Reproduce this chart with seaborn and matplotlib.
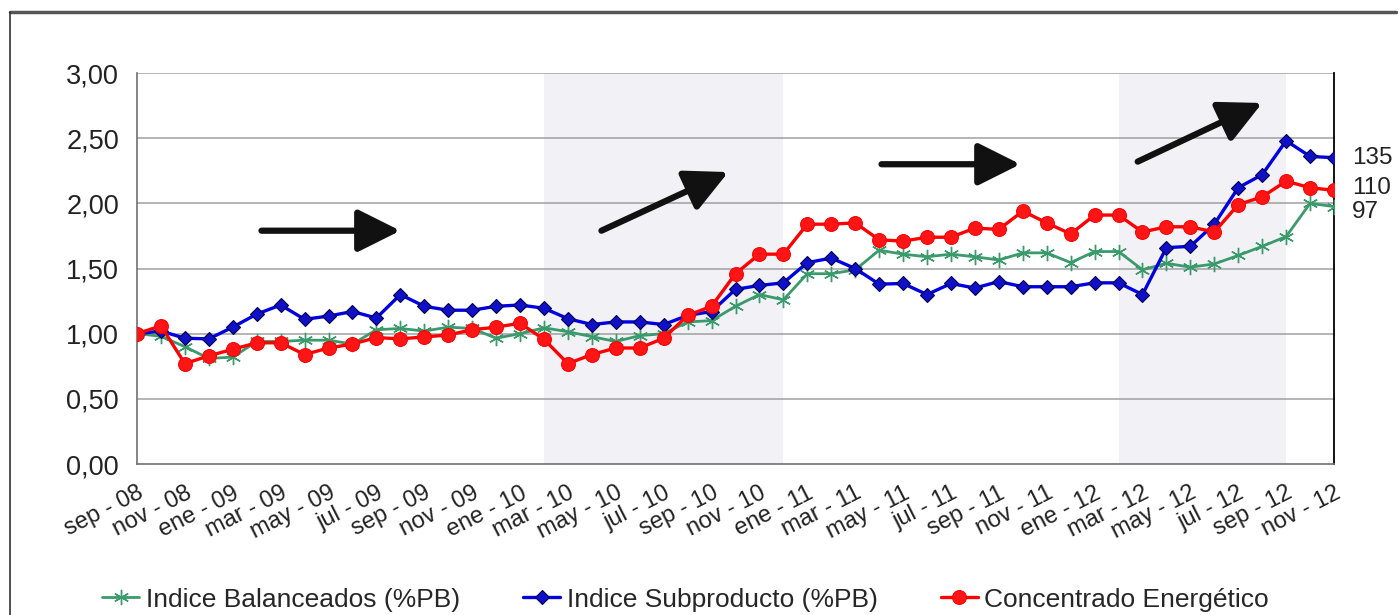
import numpy as np
import pandas as pd
import matplotlib
matplotlib.use("Agg")
import matplotlib.pyplot as plt
import seaborn as sns
from matplotlib.lines import Line2D

# ---------------- data ----------------
balanceados = [1.00, 0.98, 0.90, 0.81, 0.82, 0.94, 0.94, 0.95, 0.95, 0.92, 1.03, 1.04, 1.02,
               1.05, 1.04, 0.965, 1.00, 1.045, 1.015, 0.977, 0.94, 0.985, 1.00, 1.09, 1.10,
               1.21, 1.30, 1.26, 1.46, 1.46, 1.49, 1.64, 1.61, 1.59, 1.61, 1.59,
               1.565, 1.62, 1.62, 1.545, 1.63, 1.63, 1.49, 1.54, 1.51, 1.535, 1.60, 1.67, 1.745, 2.00, 1.975]
subproducto = [1.00, 1.02, 0.965, 0.96, 1.05, 1.15, 1.22, 1.11, 1.135, 1.17, 1.12, 1.30, 1.21,
               1.18, 1.18, 1.21, 1.22, 1.195, 1.115, 1.07, 1.09, 1.09, 1.07, 1.14, 1.17,
               1.34, 1.37, 1.39, 1.545, 1.58, 1.50, 1.38, 1.385, 1.30, 1.385, 1.35,
               1.40, 1.36, 1.36, 1.36, 1.39, 1.39, 1.30, 1.66, 1.67, 1.84, 2.12, 2.22, 2.48, 2.36, 2.35]
concentrado = [1.00, 1.06, 0.77, 0.83, 0.88, 0.93, 0.93, 0.84, 0.89, 0.92, 0.97, 0.96, 0.975,
               0.99, 1.03, 1.05, 1.08, 0.957, 0.77, 0.84, 0.89, 0.89, 0.965, 1.14, 1.21,
               1.46, 1.61, 1.61, 1.84, 1.84, 1.85, 1.72, 1.71, 1.74, 1.74, 1.81,
               1.80, 1.94, 1.85, 1.765, 1.91, 1.91, 1.78, 1.82, 1.82, 1.78, 1.99, 2.05, 2.17, 2.12, 2.10]
series_names = ["Indice Balanceados (%PB)", "Indice Subproducto (%PB)", "Concentrado Energético"]
tick_labels = ["sep - 08", "nov - 08", "ene - 09", "mar - 09", "may - 09", "jul - 09", "sep - 09",
               "nov - 09", "ene - 10", "mar - 10", "may - 10", "jul - 10", "sep - 10", "nov - 10",
               "ene - 11", "mar - 11", "may - 11", "jul - 11", "sep - 11", "nov - 11", "ene - 12",
               "mar - 12", "may - 12", "jul - 12", "sep - 12", "nov - 12"]
end_labels = ["135", "110", "97"]
end_label_y = [2.35, 2.12, 1.93]
shaded_periods = [(17, 27), (41, 48)]
trend_arrows = [((5.2, 1.79), (11.0, 1.79)), ((19.4, 1.79), (24.7, 2.24)),
                ((31.1, 2.30), (36.9, 2.30)), ((41.8, 2.32), (47.0, 2.77))]

n = len(balanceados)
idx = np.arange(n)

sns.set_style("white")
plt.rcParams["font.family"] = ["Liberation Sans", "DejaVu Sans"]

W, H = 1399, 615
fig = plt.figure(figsize=(W / 100, H / 100), dpi=100)
ax = fig.add_axes([137 / W, 1 - 464 / H, (1334 - 137) / W, (464 - 73) / H])

for a, b in shaded_periods:
    ax.axvspan(a, b, color="#F1F1F6", zorder=0, lw=0)

for yv in np.arange(0.5, 3.01, 0.5):
    ax.axhline(yv, color="#A0A0A0", lw=1.1, zorder=1)

sns.lineplot(x=idx, y=balanceados, ax=ax, color="#3A9A6C", lw=2.0, marker=(6, 2, 0),
             markersize=11, markeredgewidth=1.0, markeredgecolor="#3A9A6C",
             label=series_names[0], zorder=3, sort=False)
sns.lineplot(x=idx, y=subproducto, ax=ax, color="#0000E0", lw=2.4, marker="D",
             markersize=7, markerfacecolor="#1010C8", markeredgecolor="#000050",
             markeredgewidth=0.8, label=series_names[1], zorder=4, sort=False)
sns.lineplot(x=idx, y=concentrado, ax=ax, color="#FF0000", lw=2.4, marker="o",
             markersize=10, markerfacecolor="#FF1515", markeredgecolor="#FF0000",
             label=series_names[2], zorder=5, sort=False)

ax.set_xlim(0, n - 1)
ax.set_ylim(0, 3)
ax.set_yticks(np.arange(0, 3.01, 0.5))
ax.set_yticklabels([f"{v:.2f}".replace(".", ",") for v in np.arange(0, 3.01, 0.5)], fontsize=19.5,
                   color="#222222")
ax.set_xticks(np.arange(0, n, 2))
ax.set_xticks(np.arange(1, n, 2), minor=True)
ax.set_xticklabels(tick_labels, rotation=27, ha="right", va="top", rotation_mode="anchor",
                   fontsize=17, color="#222222")
ax.tick_params(axis="x", which="both", direction="out", length=7, width=1, color="#707070", pad=6)
ax.tick_params(axis="y", direction="out", length=7, width=1, color="#707070", pad=6)
ax.set_xlabel("")
ax.set_ylabel("")

for s in ["left", "bottom"]:
    ax.spines[s].set_color("#707070")
    ax.spines[s].set_linewidth(1.2)
ax.spines["top"].set_visible(False)
ax.spines["right"].set_color("black")
ax.spines["right"].set_linewidth(1.3)

for (x0, y0), (x1, y1) in trend_arrows:
    ax.annotate("", xy=(x1, y1), xytext=(x0, y0),
                arrowprops=dict(arrowstyle="-|>,head_length=1.3,head_width=0.65",
                                mutation_scale=20, lw=4.5, color="#111111",
                                shrinkA=0, shrinkB=0), zorder=6)

for txt, yv in zip(end_labels, end_label_y):
    ax.annotate(txt, xy=(1, yv), xycoords=("axes fraction", "data"), xytext=(13, 0),
                textcoords="offset points", va="center", ha="left", fontsize=17.5, color="#222222")

handles, labels = ax.get_legend_handles_labels()
ax.get_legend().remove()
fig.legend(handles, labels, loc="center", bbox_to_anchor=(0.490, 0.025), ncol=3, frameon=False,
           fontsize=19, handlelength=1.4, handletextpad=0.25, columnspacing=2.4)

# outer frame of the chart
fig.add_artist(Line2D([10 / W, 1396 / W], [1 - 12 / H, 1 - 12 / H], transform=fig.transFigure,
                      color="#555555", lw=2.5))
fig.add_artist(Line2D([10 / W, 10 / W], [0, 1 - 12 / H], transform=fig.transFigure,
                      color="#333333", lw=1.2))

fig.savefig("out.png", dpi=100, facecolor="white")
